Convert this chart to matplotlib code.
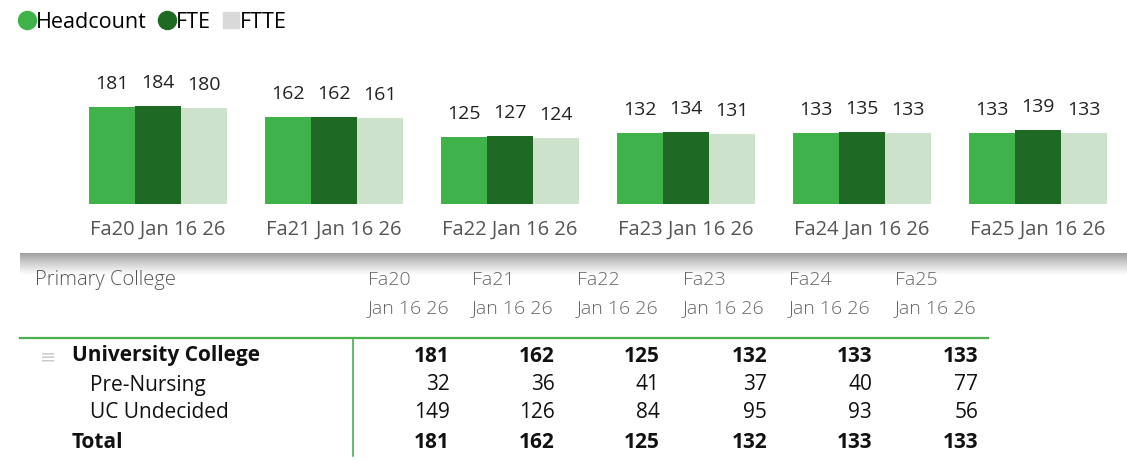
import numpy as np
import matplotlib.pyplot as plt
from matplotlib.lines import Line2D

plt.rcParams['font.family'] = ['Open Sans', 'DejaVu Sans']

terms = ['Fa20 Jan 16 26', 'Fa21 Jan 16 26', 'Fa22 Jan 16 26',
         'Fa23 Jan 16 26', 'Fa24 Jan 16 26', 'Fa25 Jan 16 26']
headcount = [181, 162, 125, 132, 133, 133]
fte = [184, 162, 127, 134, 135, 139]
ftte = [180, 161, 124, 131, 133, 133]

col_top = ['Fa20', 'Fa21', 'Fa22', 'Fa23', 'Fa24', 'Fa25']
col_bottom = ['Jan 16 26'] * 6
row_names = ['University College', 'Pre-Nursing', 'UC Undecided', 'Total']
row_bold = [True, False, False, True]
table_vals = [
    [181, 162, 125, 132, 133, 133],
    [32, 36, 41, 37, 40, 77],
    [149, 126, 84, 95, 93, 56],
    [181, 162, 125, 132, 133, 133],
]

c_head = '#3fb34a'
c_fte = '#1e6a25'
c_ftte = '#cde2ca'

W, H = 1127, 462
fig = plt.figure(figsize=(W / 100, H / 100), dpi=100)


def fx(px):
    return px / W


def fy(py):
    return 1 - py / H


# bar chart
ax = fig.add_axes([fx(70), fy(204), fx(1056), (204 - 97) / H])
x = np.arange(len(terms))
bw = 0.26
series = [(headcount, c_head, -bw), (fte, c_fte, 0), (ftte, c_ftte, bw)]
for vals, col, off in series:
    bars = ax.bar(x + off, vals, bw, color=col, linewidth=0)
    for b, v in zip(bars, vals):
        ax.annotate(str(v), (b.get_x() + b.get_width() / 2, v),
                    xytext=(0, 10), textcoords='offset points',
                    ha='center', va='bottom', fontsize=14, color='#222222')
ax.set_xlim(-0.5, 5.5)
ax.set_ylim(0, 200)
ax.set_xticks(x)
ax.set_xticklabels(terms, fontsize=14.5, color='#555555')
ax.tick_params(axis='x', length=0, pad=11)
ax.set_yticks([])
for s in ax.spines.values():
    s.set_visible(False)

# legend
handles = [
    Line2D([], [], marker='o', ls='', color=c_head, markersize=13),
    Line2D([], [], marker='o', ls='', color=c_fte, markersize=13),
    Line2D([], [], marker='s', ls='', color='#d9d9d9', markersize=12),
]
fig.legend(handles, ['Headcount', 'FTE', 'FTTE'], loc='center left',
           bbox_to_anchor=(fx(17), fy(22)), ncol=3, frameon=False,
           fontsize=15.5, handletextpad=0.0, columnspacing=0.45,
           handlelength=0.9, borderaxespad=0, borderpad=0)

# shadow band between the visuals
sh = fig.add_axes([fx(20), fy(275), fx(1107), 22 / H])
grad = np.linspace(0.45, 1.0, 50) ** 0.6
sh.imshow(np.tile(grad[:, None], (1, 10)), aspect='auto', cmap='gray',
          vmin=0, vmax=1, extent=[0, 1, 0, 1])
sh.axis('off')

# table
fig.text(fx(35), fy(280), 'Primary College', fontsize=14.5, color='#555555',
         va='center', ha='left', weight='light')
col_left = [368, 472, 577, 683, 789, 895]
col_right = [450, 555, 660, 767, 872, 978]
for i in range(len(col_top)):
    fig.text(fx(col_left[i]), fy(280), col_top[i], fontsize=14,
             color='#666666', va='center', ha='left', weight='light')
    fig.text(fx(col_left[i]), fy(308), col_bottom[i], fontsize=14,
             color='#666666', va='center', ha='left', weight='light')

fig.add_artist(Line2D([fx(20), fx(988)], [fy(338), fy(338)],
                      color='#4caf50', lw=1.6))
fig.add_artist(Line2D([fx(353), fx(353)], [fy(338), fy(456)],
                      color='#4caf50', lw=1.2))

row_y = [356, 385, 413, 442]
row_x = [72, 90, 90, 72]
fig.text(fx(40), fy(357), '\u2261', fontsize=14, color='#cccccc',
         va='center', ha='left')
for r, name in enumerate(row_names):
    wt = 'bold' if row_bold[r] else 'normal'
    fig.text(fx(row_x[r]), fy(row_y[r]), name, fontsize=15, weight=wt,
             color='#111111', va='center', ha='left')
    for c, v in enumerate(table_vals[r]):
        fig.text(fx(col_right[c]), fy(row_y[r]), str(v), fontsize=15,
                 weight=wt, color='#111111', va='center', ha='right')

fig.savefig('out.png', dpi=100)
